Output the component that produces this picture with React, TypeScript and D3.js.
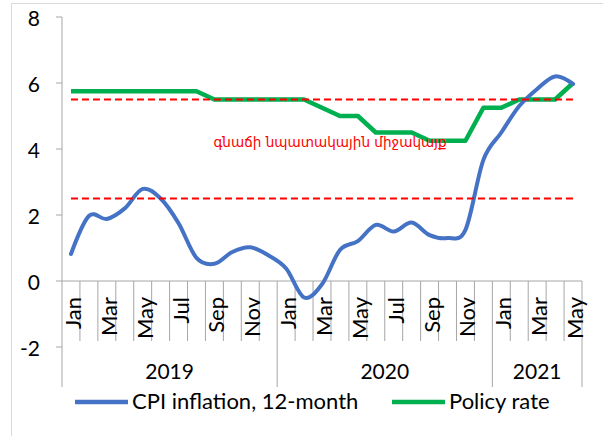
import React from "react";
import * as d3 from "d3";

// months Jan 2019 .. May 2021
const months = [
  "Jan", "Feb", "Mar", "Apr", "May", "Jun", "Jul", "Aug", "Sep", "Oct", "Nov", "Dec",
  "Jan", "Feb", "Mar", "Apr", "May", "Jun", "Jul", "Aug", "Sep", "Oct", "Nov", "Dec",
  "Jan", "Feb", "Mar", "Apr", "May",
];
const years = ["2019", "2020", "2021"];
const monthsPerYear = [12, 12, 5];

const cpi = [
  0.82, 1.97, 1.88, 2.2, 2.79, 2.5, 1.75, 0.7, 0.52, 0.88, 1.02, 0.78,
  0.38, -0.5, -0.1, 0.94, 1.21, 1.7, 1.5, 1.77, 1.39, 1.3, 1.55, 3.67,
  4.5, 5.3, 5.82, 6.2, 5.97,
];
const policy = [
  5.75, 5.75, 5.75, 5.75, 5.75, 5.75, 5.75, 5.75, 5.5, 5.5, 5.5, 5.5,
  5.5, 5.5, 5.25, 5.0, 5.0, 4.5, 4.5, 4.5, 4.25, 4.25, 4.25, 5.25,
  5.25, 5.5, 5.5, 5.5, 6.0,
];
const targetUpper = 5.5;
const targetLower = 2.5;
const yTicks = [-2, 0, 2, 4, 6, 8];

const targetLabel = "գնաճի նպատակային միջակայք";
const legendItems = [
  { name: "CPI inflation, 12-month", color: "#4472C4" },
  { name: "Policy rate", color: "#00B050" },
];

const font = "Lato, 'Open Sans', sans-serif";
const axisColor = "#a6a6a6";

const App = () => {
  const width = 603;
  const height = 436;
  const margin = { left: 62, right: 21, top: 17 };

  const x = d3
    .scaleBand<number>()
    .domain(d3.range(months.length))
    .range([margin.left, width - margin.right]);
  const bw = x.bandwidth();
  const cx = (i: number) => (x(i) as number) + bw / 2;

  const y = d3.scaleLinear().domain([-2, 8]).range([347, margin.top]);
  const y0 = y(0);
  const boxBottom = 387;

  const smooth = d3
    .line<number>()
    .x((d, i) => cx(i))
    .y((d) => y(d))
    .curve(d3.curveCardinal.tension(0));
  const straight = d3
    .line<number>()
    .x((d, i) => cx(i))
    .y((d) => y(d));

  // year start indices
  const yearStarts = monthsPerYear.map((n, k) => d3.sum(monthsPerYear.slice(0, k)));
  const edge = (i: number) => (i < months.length ? (x(i) as number) : x.range()[1]);

  return (
    <svg
      width={width}
      height={height}
      style={{ position: "absolute", left: 0, top: 0, background: "#fff" }}
    >
      <rect x={11.5} y={3.5} width={620} height={460} fill="none" stroke="#d9d9d9" />

      {/* value axis */}
      <line x1={margin.left} x2={margin.left} y1={y(8)} y2={boxBottom} stroke={axisColor} />
      {yTicks.map((t) => (
        <g key={t}>
          <line x1={56} x2={margin.left} y1={y(t)} y2={y(t)} stroke={axisColor} />
          <text
            x={40}
            y={y(t)}
            textAnchor="end"
            dominantBaseline="central"
            fontFamily={font}
            fontSize={21}
            fill="#000"
          >
            {t}
          </text>
        </g>
      ))}

      {/* category axis */}
      <line x1={margin.left} x2={x.range()[1]} y1={y0} y2={y0} stroke={axisColor} />
      {d3.range(1, months.length + 1).map((i) => {
        const isYear = yearStarts.includes(i) || i === months.length;
        return (
          <line
            key={i}
            x1={edge(i)}
            x2={edge(i)}
            y1={y0}
            y2={isYear ? boxBottom : 341}
            stroke={axisColor}
          />
        );
      })}
      {months.map((m, i) =>
        i % 2 === 0 ? (
          <text
            key={i}
            transform={`translate(${cx(i) + 10},297) rotate(-90)`}
            textAnchor="end"
            fontFamily={font}
            fontSize={22}
            fill="#000"
          >
            {m}
          </text>
        ) : null
      )}
      {years.map((yr, k) => {
        const a = edge(yearStarts[k]);
        const b = edge(yearStarts[k] + monthsPerYear[k]);
        return (
          <text
            key={yr}
            x={(a + b) / 2}
            y={379}
            textAnchor="middle"
            fontFamily={font}
            fontSize={21}
            fill="#000"
          >
            {yr}
          </text>
        );
      })}

      {/* series */}
      <path d={straight(policy) ?? ""} fill="none" stroke="#00B050" strokeWidth={4.5} strokeLinejoin="round" />
      <path d={smooth(cpi) ?? ""} fill="none" stroke="#4472C4" strokeWidth={4} strokeLinecap="round" />
      {[targetUpper, targetLower].map((v) => (
        <path
          key={v}
          d={straight(months.map(() => v)) ?? ""}
          fill="none"
          stroke="#FF0000"
          strokeWidth={2}
          strokeDasharray="7,4"
        />
      ))}
      <text
        x={330}
        y={147}
        textAnchor="middle"
        fontFamily="'DejaVu Sans', sans-serif"
        fontSize={13.6}
        fill="#FF0000"
      >
        {targetLabel}
      </text>

      {/* legend */}
      {legendItems.map((it, k) => {
        const lx = k === 0 ? 75 : 392;
        return (
          <g key={it.name}>
            <line x1={lx} x2={lx + 53} y1={402} y2={402} stroke={it.color} strokeWidth={4.5} />
            <text x={lx + 57} y={409} fontFamily={font} fontSize={22} fill="#000">
              {it.name}
            </text>
          </g>
        );
      })}
    </svg>
  );
};

export default App;
